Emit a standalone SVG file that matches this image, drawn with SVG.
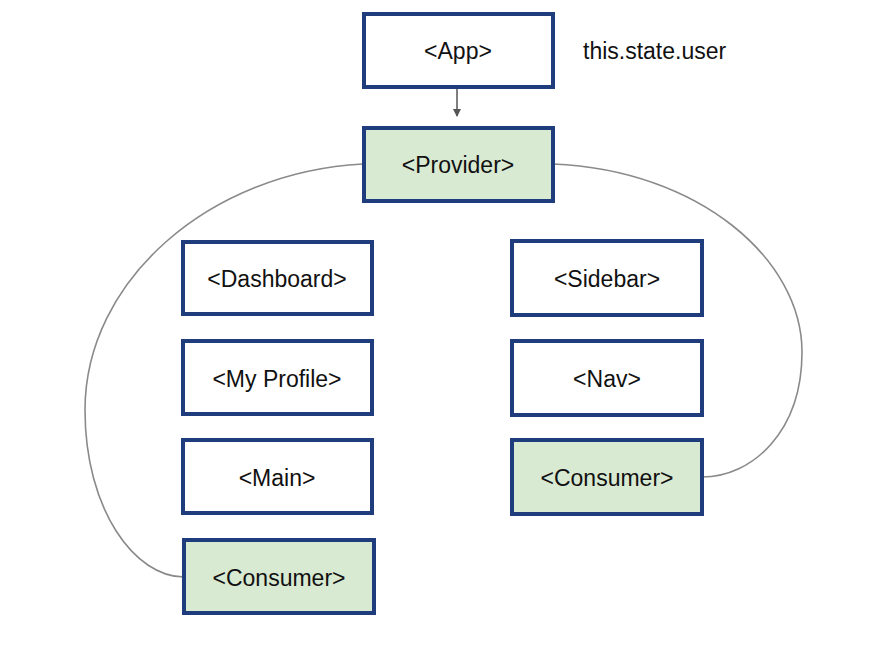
<svg xmlns="http://www.w3.org/2000/svg" width="886" height="670" viewBox="0 0 886 670">
<style>
.box{fill:#ffffff;stroke:#1f3c7c;stroke-width:4}
.hl{fill:#d9ead3}
.lbl{font-family:"Liberation Sans",Arial,sans-serif;font-size:23px;fill:#111;text-anchor:middle}
.con{fill:none;stroke:#8a8a8a;stroke-width:1.6}
</style>
<defs>
<marker id="arr" markerWidth="8" markerHeight="8" refX="7" refY="4" orient="auto" markerUnits="userSpaceOnUse">
<path d="M0,0 L8,4 L0,8 Z" fill="#555"/>
</marker>
</defs>
<rect width="886" height="670" fill="#ffffff"/>
<g id="connectors">
<line x1="457" y1="89" x2="457" y2="116" stroke="#555" stroke-width="1.5" marker-end="url(#arr)"/>
<path class="con" d="M363,164 C210,172 85,280 85,410 C85,510 135,577 184,577"/>
<path class="con" d="M553,164 C700,170 802,260 802,352 C802,432 752,477 702,477"/>
</g>
<g id="app"><rect class="box" x="364" y="14" width="189" height="73"/><text class="lbl" x="458" y="59">&lt;App&gt;</text></g>
<g id="state"><text class="lbl" x="583" y="59" style="text-anchor:start">this.state.user</text></g>
<g id="provider"><rect class="box hl" x="364" y="128" width="189" height="73"/><text class="lbl" x="458" y="173">&lt;Provider&gt;</text></g>
<g id="dashboard"><rect class="box" x="183" y="242" width="189" height="72"/><text class="lbl" x="277" y="287">&lt;Dashboard&gt;</text></g>
<g id="myprofile"><rect class="box" x="183" y="341" width="189" height="73"/><text class="lbl" x="277" y="387">&lt;My Profile&gt;</text></g>
<g id="main"><rect class="box" x="183" y="440" width="189" height="73"/><text class="lbl" x="277" y="486">&lt;Main&gt;</text></g>
<g id="consumer-left"><rect class="box hl" x="184" y="540" width="190" height="73"/><text class="lbl" x="279" y="586">&lt;Consumer&gt;</text></g>
<g id="sidebar"><rect class="box" x="512" y="241" width="190" height="74"/><text class="lbl" x="607" y="287">&lt;Sidebar&gt;</text></g>
<g id="nav"><rect class="box" x="512" y="341" width="190" height="74"/><text class="lbl" x="607" y="387">&lt;Nav&gt;</text></g>
<g id="consumer-right"><rect class="box hl" x="512" y="440" width="190" height="74"/><text class="lbl" x="607" y="486">&lt;Consumer&gt;</text></g>
</svg>
